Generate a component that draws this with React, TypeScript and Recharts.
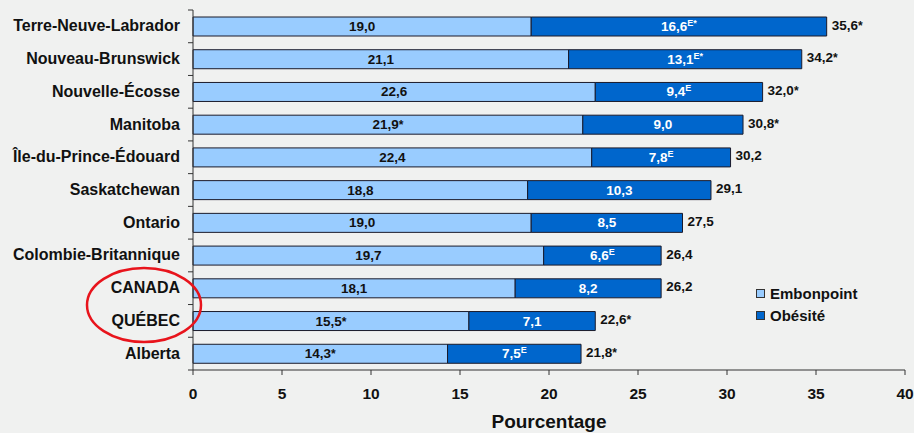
import { BarChart, Bar, XAxis, YAxis, LabelList } from 'recharts'

const provinces = [
  'Terre-Neuve-Labrador',
  'Nouveau-Brunswick',
  'Nouvelle-Écosse',
  'Manitoba',
  'Île-du-Prince-Édouard',
  'Saskatchewan',
  'Ontario',
  'Colombie-Britannique',
  'CANADA',
  'QUÉBEC',
  'Alberta',
]
const embonpoint = [19.0, 21.1, 22.6, 21.9, 22.4, 18.8, 19.0, 19.7, 18.1, 15.5, 14.3]
const obesite = [16.6, 13.1, 9.4, 9.0, 7.8, 10.3, 8.5, 6.6, 8.2, 7.1, 7.5]
const totals = [35.6, 34.2, 32.0, 30.8, 30.2, 29.1, 27.5, 26.4, 26.2, 22.6, 21.8]
const embonpointNotes = ['', '', '', '*', '', '', '', '', '', '*', '*']
const obesiteNotes = ['E*', 'E*', 'E', '', 'E', '', '', 'E', '', '', 'E']
const totalNotes = ['*', '*', '*', '*', '', '', '', '', '', '*', '*']
const xTicks = [0, 5, 10, 15, 20, 25, 30, 35, 40]

const W = 914
const H = 433
const M = { top: 10, right: 9, left: 0, bottom: 0 }
const Y_W = 193
const X_H = 63
const PLOT_LEFT = M.left + Y_W
const BAND = (H - M.top - M.bottom - X_H) / provinces.length
const FONT = '"Liberation Sans", Arial, sans-serif'
const LIGHT = '#99ccff'
const DARK = '#0066cc'
const AXIS = '#333'

const data = provinces.map((name, i) => ({
  name,
  embonpoint: embonpoint[i],
  obesite: obesite[i],
  total: totals[i],
  embNote: embonpointNotes[i],
  obeNote: obesiteNotes[i],
  totNote: totalNotes[i],
}))

const fmt = (v: number) => v.toFixed(1).replace('.', ',')

// "E" notes are superscript, a lone "*" stays at text size (Arial's asterisk sits high already)
function NoteText({ x, y, text, fill, anchor }: any) {
  const [main, note] = String(text).split('|')
  const sup = note && note.includes('E')
  return (
    <text x={x} y={y} textAnchor={anchor} fill={fill} fontFamily={FONT} fontWeight="bold" fontSize={13.5}>
      <tspan>{main}</tspan>
      {note ? (
        sup ? (
          <tspan fontSize={9} dy={-5}>
            {note}
          </tspan>
        ) : (
          <tspan fontSize={12}>{note}</tspan>
        )
      ) : null}
    </text>
  )
}

const inside = (fill: string) => (p: any) =>
  <NoteText x={p.x + p.width / 2} y={p.y + p.height / 2 + 4.5} text={p.value} fill={fill} anchor="middle" />

const outside = (p: any) =>
  <NoteText x={p.x + p.width + 5} y={p.y + p.height / 2 + 3} text={p.value} fill="#111" anchor="start" />

function ProvTick({ x, y, payload, index }: any) {
  const top = y - BAND / 2
  return (
    <g>
      <text x={x} y={y + 5} textAnchor="end" fill="#111" fontFamily={FONT} fontWeight="bold" fontSize={16}>
        {payload.value}
      </text>
      <line x1={PLOT_LEFT - 5} x2={PLOT_LEFT} y1={top} y2={top} stroke={AXIS} />
      {index === provinces.length - 1 ? (
        <line x1={PLOT_LEFT - 5} x2={PLOT_LEFT} y1={y + BAND / 2} y2={y + BAND / 2} stroke={AXIS} />
      ) : null}
    </g>
  )
}

function AxisTitle({ viewBox }: any) {
  const { x, y, width, height } = viewBox
  return (
    <text x={x + width / 2} y={y + height - 5} textAnchor="middle" fill="#111" fontFamily={FONT} fontWeight="bold" fontSize={19}>
      Pourcentage
    </text>
  )
}

function LegendBox() {
  const items = [
    { label: 'Embonpoint', color: LIGHT },
    { label: 'Obésité', color: DARK },
  ]
  return (
    <div
      style={{
        position: 'absolute',
        left: 756,
        top: 282,
        fontFamily: FONT,
        fontWeight: 'bold',
        fontSize: 15,
        color: '#111',
      }}
    >
      {items.map((it) => (
        <div key={it.label} style={{ display: 'flex', alignItems: 'center', height: 22 }}>
          <span
            style={{
              display: 'inline-block',
              width: 7,
              height: 7,
              background: it.color,
              border: '1px solid #333',
              marginRight: 5,
            }}
          />
          {it.label}
        </div>
      ))}
    </div>
  )
}

export default function App() {
  return (
    <div style={{ position: 'absolute', left: 0, top: 0, width: W, height: H, background: '#f0f1f0' }}>
      <BarChart width={W} height={H} data={data} layout="vertical" margin={M} barSize={19}>
        <XAxis
          type="number"
          domain={[0, 40]}
          ticks={xTicks}
          height={X_H}
          tickSize={5}
          tickMargin={13}
          stroke={AXIS}
          tick={{ fill: '#111', fontSize: 15.5, fontWeight: 'bold', fontFamily: FONT }}
          label={{ content: <AxisTitle /> }}
        />
        <XAxis
          xAxisId="top"
          orientation="top"
          type="number"
          domain={[0, 40]}
          height={0}
          tick={false}
          tickLine={false}
          stroke="#555"
        />
        <YAxis
          type="category"
          dataKey="name"
          width={Y_W}
          tickLine={false}
          tickMargin={7}
          stroke={AXIS}
          interval={0}
          tick={<ProvTick />}
        />
        <YAxis
          yAxisId="right"
          orientation="right"
          type="category"
          dataKey="name"
          width={0}
          tick={false}
          tickLine={false}
          stroke="#555"
        />
        <Bar dataKey="embonpoint" stackId="a" fill={LIGHT} stroke="#1a1a2a" strokeWidth={1} isAnimationActive={false}>
          <LabelList dataKey={(d: any) => `${fmt(d.embonpoint)}|${d.embNote}`} content={inside('#111')} />
        </Bar>
        <Bar dataKey="obesite" stackId="a" fill={DARK} stroke="#1a1a2a" strokeWidth={1} isAnimationActive={false}>
          <LabelList dataKey={(d: any) => `${fmt(d.obesite)}|${d.obeNote}`} content={inside('#fff')} />
          <LabelList dataKey={(d: any) => `${fmt(d.total)}|${d.totNote}`} content={outside} />
        </Bar>
      </BarChart>
      <LegendBox />
      <svg width={W} height={H} style={{ position: 'absolute', left: 0, top: 0, pointerEvents: 'none' }}>
        <ellipse cx={144} cy={305} rx={57} ry={37} fill="none" stroke="#e8141c" strokeWidth={2.5} />
      </svg>
    </div>
  )
}
